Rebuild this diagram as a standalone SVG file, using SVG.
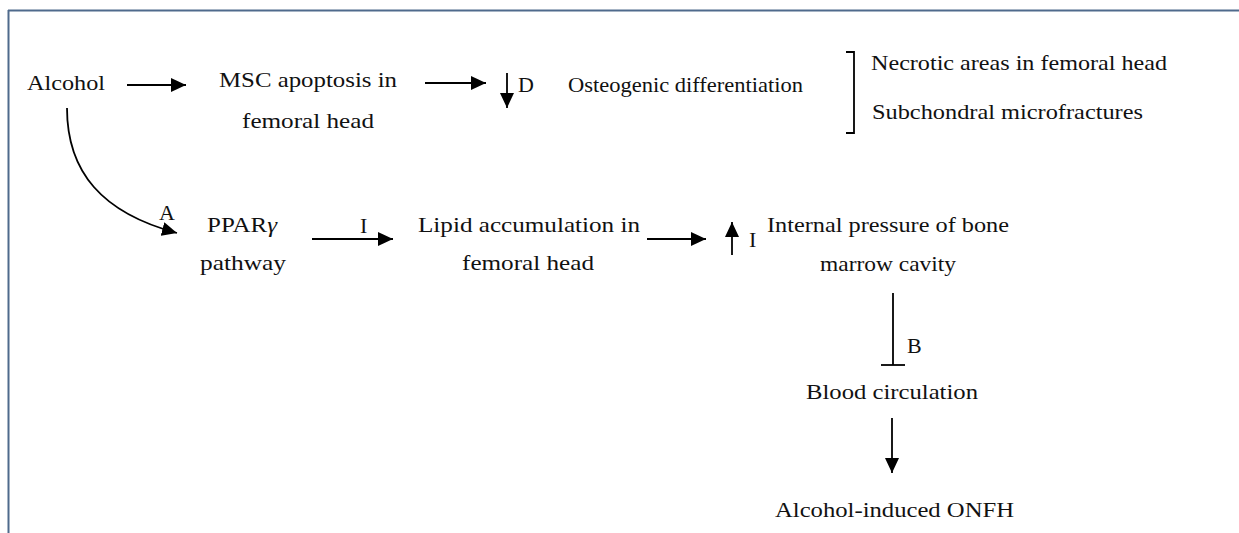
<svg xmlns="http://www.w3.org/2000/svg" width="1239" height="533" viewBox="0 0 1239 533">
<style>
text{font-family:"Liberation Serif","Times New Roman",serif;font-size:22px;fill:#111}
.c{stroke:#000;stroke-width:1.8;fill:none}
.b{stroke:#4f6a8c;stroke-width:2;fill:none}
</style>
<defs>
<marker id="ah" markerUnits="userSpaceOnUse" markerWidth="16" markerHeight="14" refX="15" refY="7" orient="auto">
<path d="M0,0 L15,7 L0,14 Z" fill="#000"/>
</marker>
</defs>
<rect width="1239" height="533" fill="#fff"/>
<g id="frame">
<line class="b" x1="8" y1="10.5" x2="1239" y2="10.5"/>
<line class="b" x1="8.5" y1="10" x2="8.5" y2="533"/>
</g>
<g id="connectors">
<line class="c" x1="127" y1="85" x2="186" y2="85" marker-end="url(#ah)"/>
<line class="c" x1="425" y1="83" x2="486" y2="83" marker-end="url(#ah)"/>
<line class="c" x1="507" y1="73" x2="507" y2="108" marker-end="url(#ah)"/>
<path class="c" d="M67,108 C67,172 102,213 177,233" marker-end="url(#ah)"/>
<line class="c" x1="312" y1="239" x2="393" y2="239" marker-end="url(#ah)"/>
<line class="c" x1="647" y1="239" x2="706" y2="239" marker-end="url(#ah)"/>
<line class="c" x1="732" y1="255" x2="732" y2="222" marker-end="url(#ah)"/>
<line class="c" x1="893" y1="293" x2="893" y2="365"/>
<line class="c" x1="881" y1="365" x2="905" y2="365"/>
<line class="c" x1="892" y1="418" x2="892" y2="473" marker-end="url(#ah)"/>
<path class="c" d="M846,52 H854 V133 H846"/>
</g>
<g id="labels">
<text x="518" y="92">D</text>
<text x="159" y="220">A</text>
<text x="360" y="233">I</text>
<text x="749" y="247">I</text>
<text x="907" y="353">B</text>
</g>
<g id="n-alcohol"><text x="27" y="90" textLength="78" lengthAdjust="spacingAndGlyphs">Alcohol</text></g>
<g id="n-msc">
<text x="219" y="87" textLength="178" lengthAdjust="spacingAndGlyphs">MSC apoptosis in</text>
<text x="242" y="128" textLength="132" lengthAdjust="spacingAndGlyphs">femoral head</text>
</g>
<g id="n-osteo"><text x="568" y="92" textLength="235" lengthAdjust="spacingAndGlyphs">Osteogenic differentiation</text></g>
<g id="n-outcomes">
<text x="871" y="70" textLength="296" lengthAdjust="spacingAndGlyphs">Necrotic areas in femoral head</text>
<text x="872" y="119" textLength="271" lengthAdjust="spacingAndGlyphs">Subchondral microfractures</text>
</g>
<g id="n-ppar">
<text x="207" y="232" textLength="70" lengthAdjust="spacingAndGlyphs">PPAR<tspan font-style="italic">γ</tspan></text>
<text x="200" y="270" textLength="86" lengthAdjust="spacingAndGlyphs">pathway</text>
</g>
<g id="n-lipid">
<text x="418" y="232" textLength="222" lengthAdjust="spacingAndGlyphs">Lipid accumulation in</text>
<text x="462" y="270" textLength="132" lengthAdjust="spacingAndGlyphs">femoral head</text>
</g>
<g id="n-pressure">
<text x="767" y="232" textLength="242" lengthAdjust="spacingAndGlyphs">Internal pressure of bone</text>
<text x="820" y="271" textLength="136" lengthAdjust="spacingAndGlyphs">marrow cavity</text>
</g>
<g id="n-blood"><text x="806" y="399" textLength="172" lengthAdjust="spacingAndGlyphs">Blood circulation</text></g>
<g id="n-onfh"><text x="775" y="517" textLength="239" lengthAdjust="spacingAndGlyphs">Alcohol-induced ONFH</text></g>
</svg>
